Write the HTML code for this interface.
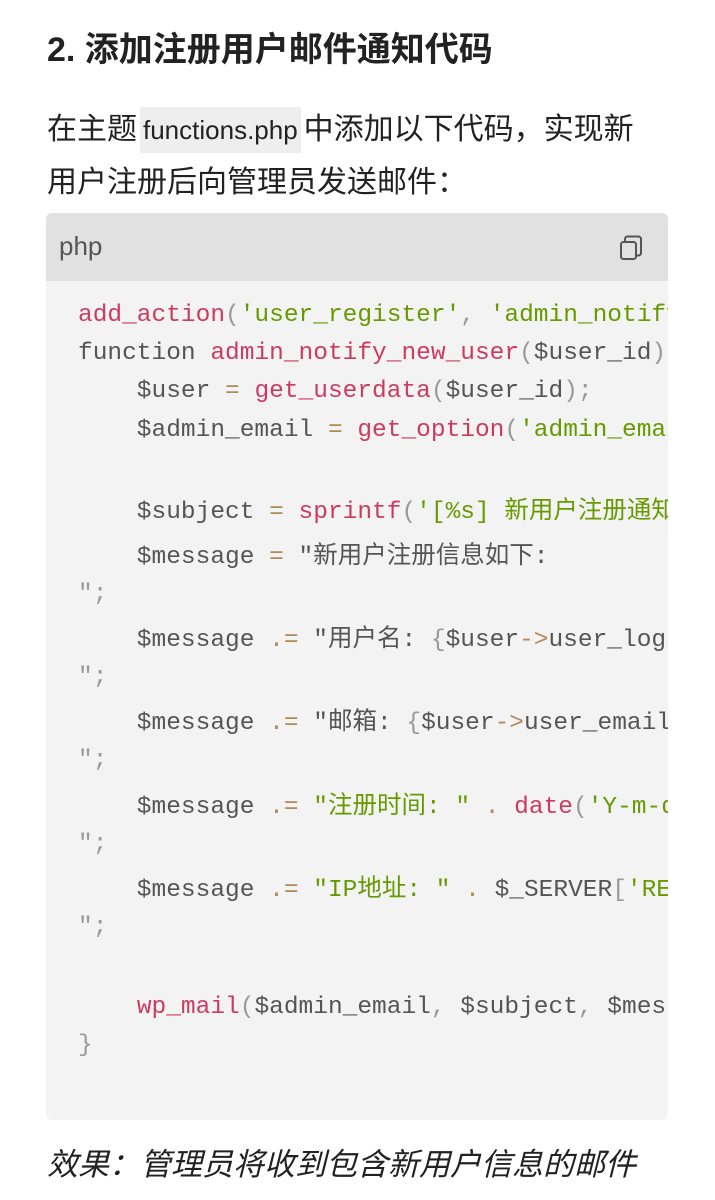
<!DOCTYPE html>
<html><head><meta charset="utf-8"><style>
body{margin:0;width:715px;height:1200px;background:#fff;position:relative;overflow:hidden;font-family:"Liberation Sans","Noto Sans CJK SC",sans-serif;color:#222}
.a{position:absolute;white-space:pre}
h2{position:absolute;left:47px;top:27px;margin:0;font-size:34px;font-weight:bold;line-height:46px;white-space:nowrap}
.p{position:absolute;left:47px;font-size:30px;line-height:40px;white-space:nowrap}
.ic{background:#eee;font-size:26px;padding:8px 3px;margin:0 3px}
.box{position:absolute;left:46px;top:213px;width:622px;height:907px;background:#f3f3f3;border-radius:6px;overflow:hidden}
.hd{position:absolute;left:0;top:0;width:622px;height:68px;background:#e1e1e1}
.c{position:absolute;left:32px;font-family:"Liberation Mono","Noto Sans CJK SC",monospace;font-size:24.5px;line-height:30px;color:#555;white-space:pre;letter-spacing:0}
.k{color:#cc3b62}.s{color:#679a00}.g{color:#999}.o{color:#b08a5a}
</style></head><body>
<h2>2. 添加注册用户邮件通知代码</h2>
<div class="p" style="top:110px">在主题<span class="ic">functions.php</span>中添加以下代码，实现新</div>
<div class="p" style="top:163px">用户注册后向管理员发送邮件：</div>
<div class="box">
<div class="hd"></div>
<div class="a" style="left:13px;top:18px;font-size:26px;color:#555">php</div>
<svg class="a" style="left:572px;top:21px" width="28" height="28" viewBox="0 0 28 28"><rect x="3" y="8" width="15" height="17" rx="2.5" fill="none" stroke="#555" stroke-width="2"/><path d="M7 8V5a2.5 2.5 0 0 1 2.5-2.5h11A2.5 2.5 0 0 1 23 5v14a2.5 2.5 0 0 1-2.5 2.5H18" fill="none" stroke="#555" stroke-width="2"/></svg>
<div class="c" style="top:88px"><span class="k">add_action</span><span class="g">(</span><span class="s">'user_register'</span><span class="g">,</span> <span class="s">'admin_notify_new_user'</span><span class="g">);</span></div>
<div class="c" style="top:126px">function <span class="k">admin_notify_new_user</span><span class="g">(</span>$user_id<span class="g">)</span> <span class="g">{</span></div>
<div class="c" style="top:164px">    $user <span class="o">=</span> <span class="k">get_userdata</span><span class="g">(</span>$user_id<span class="g">);</span></div>
<div class="c" style="top:203px">    $admin_email <span class="o">=</span> <span class="k">get_option</span><span class="g">(</span><span class="s">'admin_email'</span><span class="g">);</span></div>
<div class="c" style="top:285px">    $subject <span class="o">=</span> <span class="k">sprintf</span><span class="g">(</span><span class="s">'[%s] 新用户注册通知'</span><span class="g">);</span></div>
<div class="c" style="top:330px">    $message <span class="o">=</span> "新用户注册信息如下:</div>
<div class="c g" style="top:367px">";</div>
<div class="c" style="top:413px">    $message <span class="o">.=</span> "用户名: <span class="g">{</span>$user<span class="o">-&gt;</span>user_login}</div>
<div class="c g" style="top:450px">";</div>
<div class="c" style="top:496px">    $message <span class="o">.=</span> "邮箱: <span class="g">{</span>$user<span class="o">-&gt;</span>user_email}</div>
<div class="c g" style="top:533px">";</div>
<div class="c" style="top:580px">    $message <span class="o">.=</span> <span class="s">"注册时间: "</span> <span class="o">.</span> <span class="k">date</span><span class="g">(</span><span class="s">'Y-m-d'</span></div>
<div class="c g" style="top:617px">";</div>
<div class="c" style="top:663px">    $message <span class="o">.=</span> <span class="s">"IP地址: "</span> <span class="o">.</span> $_SERVER<span class="g">[</span><span class="s">'REMOTE'</span></div>
<div class="c g" style="top:700px">";</div>
<div class="c" style="top:780px">    <span class="k">wp_mail</span><span class="g">(</span>$admin_email<span class="g">,</span> $subject<span class="g">,</span> $message<span class="g">);</span></div>
<div class="c g" style="top:818px">}</div>
</div>
<div class="p" style="top:1145px;font-size:31px;font-style:italic">效果：管理员将收到包含新用户信息的邮件</div>
</body></html>
